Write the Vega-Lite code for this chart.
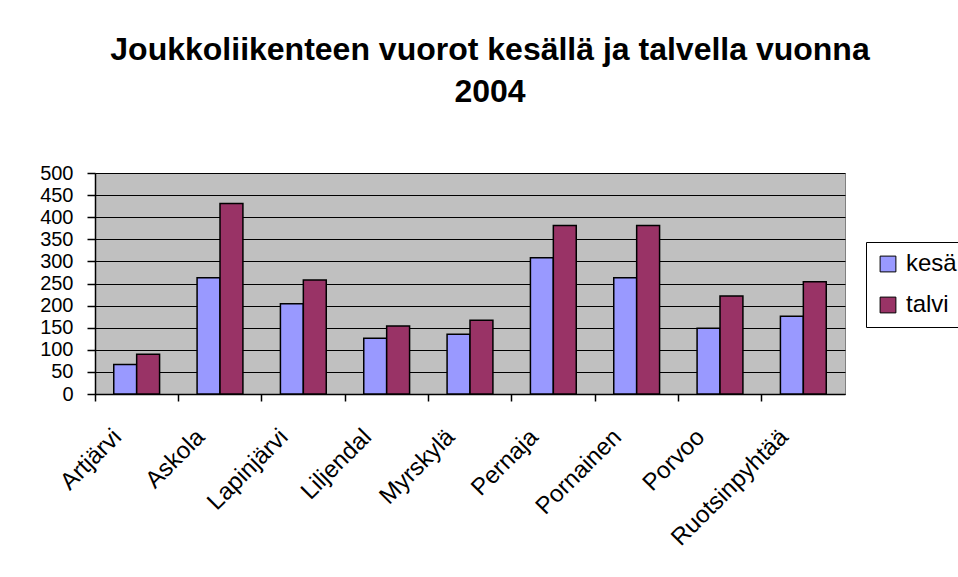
{
  "$schema": "https://vega.github.io/schema/vega-lite/v6.json",
  "autosize": {"type": "none"},
  "width": 750,
  "height": 221,
  "padding": {"left": 95, "top": 173, "right": 113, "bottom": 183},
  "background": "white",
  "title": {
    "text": ["Joukkoliikenteen vuorot kesällä ja talvella vuonna", "2004"],
    "font": "Liberation Sans",
    "fontSize": 32,
    "fontWeight": "bold",
    "lineHeight": 42,
    "color": "black",
    "anchor": "middle",
    "dx": 20,
    "offset": 54
  },
  "data": {
    "values": [
      {"kunta": "Artjärvi", "kausi": "kesä", "vuorot": 67},
      {"kunta": "Artjärvi", "kausi": "talvi", "vuorot": 90},
      {"kunta": "Askola", "kausi": "kesä", "vuorot": 263},
      {"kunta": "Askola", "kausi": "talvi", "vuorot": 431},
      {"kunta": "Lapinjärvi", "kausi": "kesä", "vuorot": 204},
      {"kunta": "Lapinjärvi", "kausi": "talvi", "vuorot": 258},
      {"kunta": "Liljendal", "kausi": "kesä", "vuorot": 126},
      {"kunta": "Liljendal", "kausi": "talvi", "vuorot": 154},
      {"kunta": "Myrskylä", "kausi": "kesä", "vuorot": 135},
      {"kunta": "Myrskylä", "kausi": "talvi", "vuorot": 167},
      {"kunta": "Pernaja", "kausi": "kesä", "vuorot": 308},
      {"kunta": "Pernaja", "kausi": "talvi", "vuorot": 381},
      {"kunta": "Pornainen", "kausi": "kesä", "vuorot": 263},
      {"kunta": "Pornainen", "kausi": "talvi", "vuorot": 381},
      {"kunta": "Porvoo", "kausi": "kesä", "vuorot": 149},
      {"kunta": "Porvoo", "kausi": "talvi", "vuorot": 222},
      {"kunta": "Ruotsinpyhtää", "kausi": "kesä", "vuorot": 176},
      {"kunta": "Ruotsinpyhtää", "kausi": "talvi", "vuorot": 254}
    ]
  },
  "mark": {"type": "bar", "stroke": "black", "strokeWidth": 1.5},
  "encoding": {
    "x": {
      "field": "kunta",
      "type": "nominal",
      "sort": null,
      "scale": {"paddingInner": 0.45, "paddingOuter": 0.225},
      "axis": {
        "title": null,
        "labelAngle": -45,
        "labelAlign": "right",
        "labelBaseline": "alphabetic",
        "labelFont": "Liberation Sans",
        "labelFontSize": 24,
        "labelColor": "black",
        "labelPadding": 37,
        "labelOffset": -14,
        "labelOverlap": false,
        "bandPosition": -0.409,
        "domainColor": "black",
        "domainWidth": 1.5,
        "tickColor": "black",
        "tickSize": 7,
        "tickWidth": 1.5,
        "grid": false
      }
    },
    "xOffset": {"field": "kausi", "type": "nominal"},
    "y": {
      "field": "vuorot",
      "type": "quantitative",
      "scale": {"domain": [0, 500], "nice": false},
      "axis": {
        "title": null,
        "values": [0, 50, 100, 150, 200, 250, 300, 350, 400, 450, 500],
        "labelOverlap": false,
        "labelFont": "Liberation Sans",
        "labelFontSize": 20,
        "labelColor": "black",
        "labelPadding": 14,
        "domainColor": "black",
        "domainWidth": 1.5,
        "tickColor": "black",
        "tickSize": 8,
        "tickWidth": 1.5,
        "grid": true,
        "gridColor": "black",
        "gridWidth": 1.2
      }
    },
    "color": {
      "field": "kausi",
      "type": "nominal",
      "scale": {"domain": ["kesä", "talvi"], "range": ["#9999FF", "#993366"]},
      "legend": {
        "title": null,
        "orient": "none",
        "legendX": 771,
        "legendY": 69,
        "symbolType": "square",
        "symbolSize": 250,
        "symbolStrokeColor": "black",
        "symbolStrokeWidth": 1,
        "labelFont": "Liberation Sans",
        "labelFontSize": 24,
        "labelColor": "black",
        "rowPadding": 17,
        "labelOffset": 6,
        "padding": 10,
        "strokeColor": "black",
        "fillColor": "white"
      }
    }
  },
  "config": {
    "view": {"fill": "#C0C0C0", "stroke": "#808080", "strokeWidth": 1}
  }
}
